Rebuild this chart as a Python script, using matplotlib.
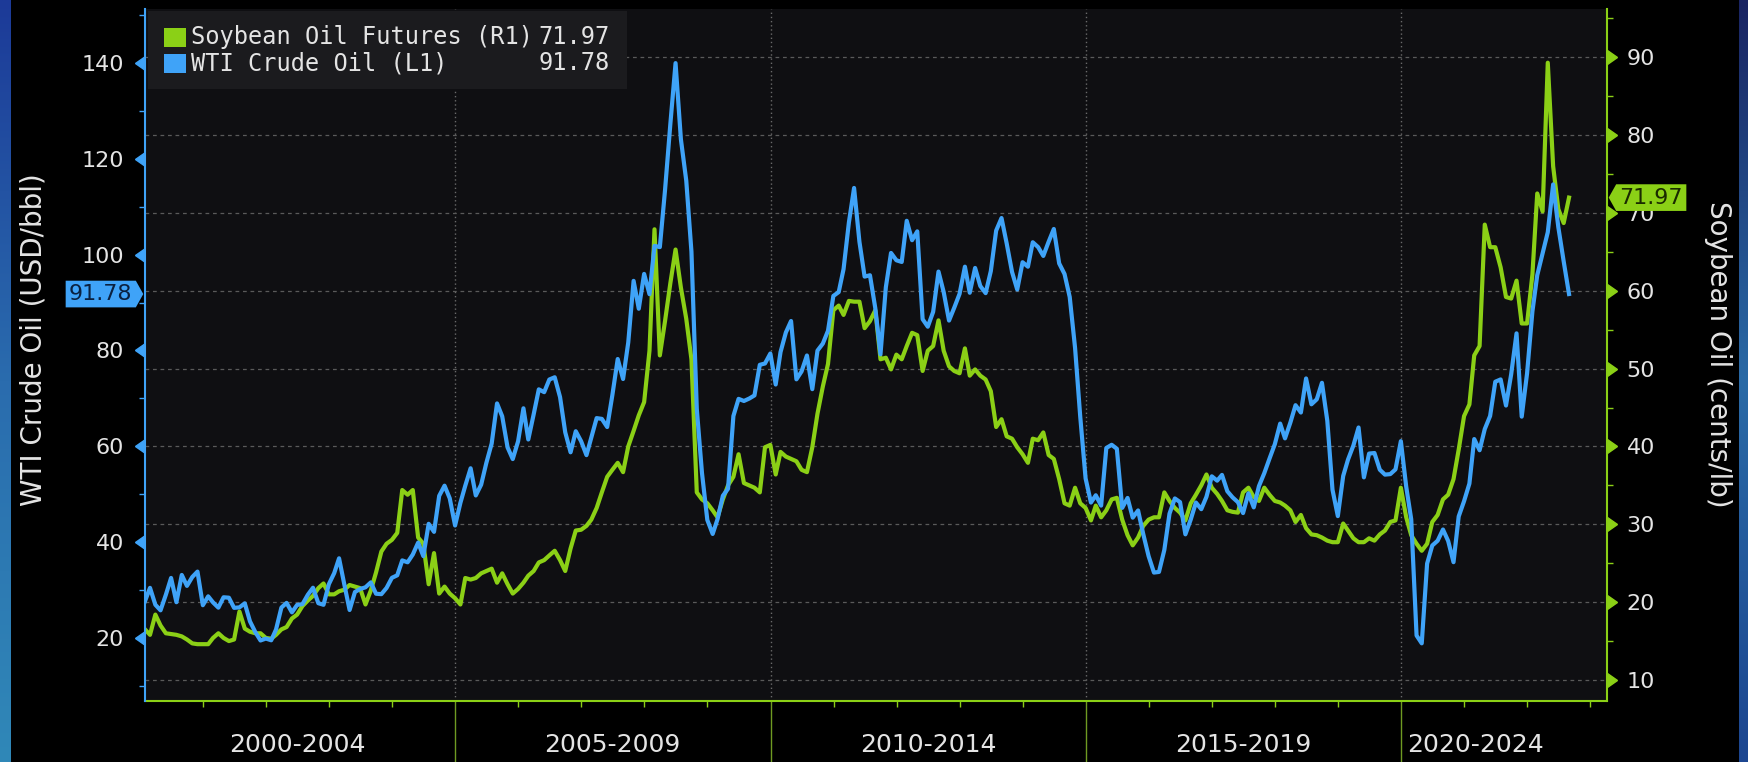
import numpy as np
import pandas as pd
import matplotlib
matplotlib.use("Agg")
import matplotlib.pyplot as plt
from matplotlib.colors import LinearSegmentedColormap
from matplotlib.markers import CARETLEFTBASE, CARETRIGHTBASE
from matplotlib.patches import Rectangle, FancyBboxPatch
from matplotlib.path import Path

# month-end values, Jan 2000 .. Aug 2022
wti = [
    27.64, 30.43, 26.90, 25.74, 29.01, 32.50, 27.43, 33.12, 30.84, 32.70, 33.82, 26.80,
    28.66, 27.39, 26.29, 28.46, 28.37, 26.25, 26.35, 27.20, 23.43, 21.18, 19.44, 19.84,
    19.48, 21.74, 26.31, 27.29, 25.31, 26.86, 27.02, 28.98, 30.45, 27.22, 26.89, 31.20,
    33.51, 36.60, 31.04, 25.80, 29.56, 30.19, 30.54, 31.57, 29.20, 29.11, 30.41, 32.52,
    33.05, 36.16, 35.76, 37.38, 39.88, 37.05, 43.80, 42.12, 49.64, 51.76, 49.13, 43.45,
    48.20, 51.75, 55.40, 49.72, 51.97, 56.50, 60.57, 68.94, 66.24, 59.76, 57.32, 61.04,
    67.92, 61.41, 66.63, 71.88, 71.29, 73.93, 74.40, 70.26, 62.91, 58.73, 63.13, 61.05,
    58.14, 61.79, 65.87, 65.71, 64.01, 70.68, 78.21, 74.04, 81.66, 94.53, 88.71, 95.98,
    91.75, 101.84, 101.58, 113.46, 127.35, 140.00, 124.08, 115.46, 100.64, 67.81, 54.43, 44.60,
    41.68, 44.76, 49.66, 51.12, 66.31, 69.89, 69.45, 69.96, 70.61, 77.00, 77.28, 79.36,
    72.89, 79.66, 83.76, 86.15, 73.97, 75.63, 78.95, 71.92, 79.97, 81.43, 84.11, 91.38,
    92.19, 96.97, 106.72, 113.93, 102.70, 95.42, 95.70, 88.81, 79.20, 93.19, 100.36, 98.83,
    98.48, 107.07, 103.02, 104.87, 86.53, 84.96, 88.06, 96.47, 92.19, 86.24, 88.91, 91.82,
    97.49, 92.05, 97.23, 93.46, 91.97, 96.56, 105.03, 107.65, 102.33, 96.38, 92.72, 98.42,
    97.49, 102.59, 101.58, 99.74, 102.71, 105.37, 98.17, 95.96, 91.16, 80.54, 66.15, 53.27,
    48.24, 49.76, 47.60, 59.63, 60.30, 59.47, 47.12, 49.20, 45.09, 46.59, 41.65, 37.04,
    33.62, 33.75, 38.34, 45.92, 49.10, 48.33, 41.60, 44.70, 48.24, 46.86, 49.44, 53.72,
    52.81, 54.01, 50.60, 49.33, 48.32, 46.04, 50.17, 47.23, 51.67, 54.38, 57.40, 60.42,
    64.73, 61.64, 64.94, 68.57, 67.04, 74.15, 68.76, 69.80, 73.25, 65.31, 50.93, 45.41,
    53.79, 57.22, 60.14, 63.91, 53.50, 58.47, 58.58, 55.10, 54.07, 54.18, 55.17, 61.06,
    51.56, 44.76, 20.48, 18.84, 35.49, 39.27, 40.27, 42.61, 40.22, 35.79, 45.34, 48.52,
    52.20, 61.50, 59.16, 63.58, 66.32, 73.47, 73.95, 68.50, 75.03, 83.57, 66.18, 75.21,
    88.15, 95.72, 100.28, 104.69, 114.67, 105.76, 98.62, 91.78,
]

soy = [
    16.5, 15.8, 18.4, 17.0, 16.0, 15.9, 15.8, 15.6, 15.2, 14.7, 14.6, 14.6,
    14.6, 15.4, 16.0, 15.4, 15.0, 15.2, 18.8, 16.6, 16.2, 16.0, 16.0, 15.4,
    15.3, 15.8, 16.5, 16.8, 17.9, 18.4, 19.5, 20.2, 20.8, 21.8, 22.4, 21.0,
    21.0, 21.4, 21.6, 22.2, 22.0, 21.8, 19.7, 21.5, 23.8, 26.5, 27.5, 28.0,
    28.9, 34.4, 33.8, 34.4, 28.3, 27.5, 22.3, 26.3, 21.1, 22.0, 21.1, 20.5,
    19.7, 23.1, 22.9, 23.1, 23.7, 24.0, 24.3, 22.5, 23.7, 22.3, 21.1, 21.7,
    22.5, 23.4, 24.0, 25.1, 25.4, 26.0, 26.6, 25.4, 24.0, 26.9, 29.2, 29.3,
    29.8, 30.6, 32.1, 34.1, 36.1, 37.0, 37.9, 36.7, 40.0, 42.0, 44.0, 45.7,
    52.3, 67.9, 51.7, 56.1, 61.0, 65.3, 60.4, 56.4, 51.2, 34.1, 33.2, 32.7,
    31.8, 30.9, 33.2, 35.0, 36.1, 39.0, 35.3, 35.0, 34.7, 34.1, 39.9, 40.2,
    36.4, 39.3, 38.7, 38.4, 38.1, 37.0, 36.7, 39.9, 44.2, 47.7, 50.6, 57.5,
    58.1, 56.9, 58.7, 58.6, 58.6, 55.2, 56.1, 57.5, 51.2, 51.4, 49.9, 51.8,
    51.2, 52.9, 54.6, 54.3, 49.7, 52.3, 52.9, 56.2, 52.3, 50.3, 49.7, 49.4,
    52.6, 49.1, 49.9, 49.1, 48.6, 47.1, 42.5, 43.5, 41.3, 41.0, 39.9, 39.0,
    37.9, 41.0, 40.8, 41.8, 38.9, 38.4, 35.8, 32.7, 32.4, 34.7, 32.7, 32.1,
    30.5, 32.4, 30.9, 31.8, 33.2, 33.4, 30.6, 28.6, 27.3, 28.3, 29.8, 30.6,
    30.9, 30.9, 34.1, 33.0, 32.1, 31.5, 30.5, 32.7, 33.8, 35.0, 36.4, 34.7,
    33.9, 33.0, 31.8, 31.6, 31.5, 34.1, 34.7, 33.5, 33.0, 34.7, 33.8, 33.0,
    32.8, 32.4, 31.8, 30.3, 31.2, 29.5, 28.7, 28.6, 28.3, 27.9, 27.7, 27.7,
    30.1, 29.2, 28.2, 27.7, 27.7, 28.2, 27.9, 28.7, 29.2, 30.3, 30.5, 34.7,
    30.9, 28.6, 27.5, 26.6, 27.5, 30.3, 31.2, 33.2, 33.8, 35.8, 39.6, 43.9,
    45.4, 51.7, 52.9, 68.5, 65.6, 65.6, 63.0, 59.2, 59.0, 61.3, 55.8, 55.8,
    62.1, 72.5, 70.2, 89.3, 76.0, 70.5, 68.7, 71.97,
]

wti_ticks = [20, 40, 60, 80, 100, 120, 140]
wti_minor = [10, 30, 50, 70, 90, 110, 130, 150]
soy_ticks = [10, 20, 30, 40, 50, 60, 70, 80, 90]
soy_minor = [15, 25, 35, 45, 55, 65, 75, 85, 95]
period_labels = ["2000-2004", "2005-2009", "2010-2014", "2015-2019", "2020-2024"]
period_mid = ["2002-07-01", "2007-07-01", "2012-07-01", "2017-07-01", "2021-03-10"]
dividers = ["2005-01-01", "2010-01-01", "2015-01-01", "2020-01-01"]

GREEN = "#8bd016"
BLUE = "#3fa3f8"
TXT = "#e4e4e4"
MONO = ["DejaVu Sans Mono"]

plt.rcParams["font.family"] = ["DejaVu Sans"]

dates = pd.date_range("2000-01-31", periods=len(wti), freq="ME")

W, H = 1749, 762
fig = plt.figure(figsize=(W / 100, H / 100), dpi=100, facecolor="black")


def strip(x0, w, colors):
    # thin gradient bands at the picture edges
    sax = fig.add_axes([x0 / W, 0, w / W, 1])
    cmap = LinearSegmentedColormap.from_list("s", colors)
    sax.imshow(np.linspace(0, 1, 256).reshape(-1, 1), aspect="auto", cmap=cmap)
    sax.axis("off")


strip(0, 11, ["#1c3a98", "#2a6cae", "#3088b8"])
strip(1739, 10, ["#1a2462", "#2a6aa6", "#1d4690"])

ax = fig.add_axes([145 / W, 61 / H, 1462 / W, 692 / H])   # soybean, right scale
ax.set_facecolor("#0f0f12")
axl = ax.twinx()                                           # WTI, left scale
ax.yaxis.tick_right()
ax.yaxis.set_label_position("right")
axl.yaxis.tick_left()
axl.yaxis.set_label_position("left")

ax.plot(dates, soy, color=GREEN, lw=3.0)
axl.plot(dates, wti, color=BLUE, lw=3.0)

ax.set_xlim(pd.Timestamp("2000-01-31"), pd.Timestamp("2023-04-08"))
ax.set_ylim(7.3, 96.2)
axl.set_ylim(6.8, 151.3)

# spines
for s in ["left", "top"]:
    ax.spines[s].set_visible(False)
for s in ["right", "bottom"]:
    ax.spines[s].set_color(GREEN)
    ax.spines[s].set_linewidth(1.5)
for s in ["right", "top", "bottom"]:
    axl.spines[s].set_visible(False)
axl.spines["left"].set_color(BLUE)
axl.spines["left"].set_linewidth(1.5)

# y ticks
ax.set_yticks(soy_ticks)
ax.set_yticks(soy_minor, minor=True)
ax.tick_params(axis="y", which="major", color=GREEN, labelcolor=TXT, labelsize=16,
               length=6, width=1, pad=8)
ax.tick_params(axis="y", which="minor", color=GREEN, length=4, width=1)
for t in ax.yaxis.get_major_ticks():
    t.tick2line.set_marker(CARETRIGHTBASE)
    t.tick2line.set_markersize(10)

axl.set_yticks(wti_ticks)
axl.set_yticks(wti_minor, minor=True)
axl.tick_params(axis="y", which="major", color=BLUE, labelcolor=TXT, labelsize=16,
                length=6, width=1, pad=9)
axl.tick_params(axis="y", which="minor", color=BLUE, length=4, width=1)
for t in axl.yaxis.get_major_ticks():
    t.tick1line.set_marker(CARETLEFTBASE)
    t.tick1line.set_markersize(10)

# x ticks: period dividers + yearly marks
ax.set_xticks(pd.to_datetime(dividers))
ax.set_xticks(pd.date_range("2001-01-01", "2023-01-01", freq="YS"), minor=True)
ax.tick_params(axis="x", which="major", color="#6f9a22", length=44, width=1,
               labelbottom=False)
ax.tick_params(axis="x", which="minor", color=GREEN, length=4, width=1,
               labelbottom=False)

ax.grid(axis="y", which="major", color="#5a5a5a", ls=(0, (3, 3)), lw=0.9)
ax.grid(axis="x", which="major", color="#6a6a6a", ls=(0, (1, 2)), lw=1.0)

for lab, mid in zip(period_labels, period_mid):
    ax.text(pd.Timestamp(mid), -0.064, lab, transform=ax.get_xaxis_transform(),
            ha="center", va="center", fontsize=18, color=TXT)

fig.text(0.019, 0.554, "WTI Crude Oil (USD/bbl)", rotation=90, ha="center",
         va="center", fontsize=20, color=TXT)
fig.text(0.9823, 0.535, "Soybean Oil (cents/lb)", rotation=270, ha="center",
         va="center", fontsize=20, color=TXT)


# last value tags on both scales
def tag_right(x0, y0, width, height, mutation_size):
    pad = 0.15 * mutation_size
    x0, y0 = x0 - pad, y0 - pad
    w, h = width + 2 * pad, height + 2 * pad
    tip = 0.28 * h
    return Path([(x0, y0), (x0 + w, y0), (x0 + w + tip, y0 + h / 2),
                 (x0 + w, y0 + h), (x0, y0 + h), (x0, y0)], closed=True)


def tag_left(x0, y0, width, height, mutation_size):
    pad = 0.15 * mutation_size
    x0, y0 = x0 - pad, y0 - pad
    w, h = width + 2 * pad, height + 2 * pad
    tip = 0.28 * h
    return Path([(x0, y0), (x0 + w, y0), (x0 + w, y0 + h), (x0, y0 + h),
                 (x0 - tip, y0 + h / 2), (x0, y0)], closed=True)


axl.annotate(f"{wti[-1]:.2f}", xy=(0, wti[-1]), xycoords=axl.get_yaxis_transform(),
             xytext=(-9, 0), textcoords="offset points", ha="right", va="center",
             fontsize=16, color="#0a2140", annotation_clip=False,
             bbox=dict(boxstyle=tag_right, fc=BLUE, ec="none"))
ax.annotate(f"{soy[-1]:.2f}", xy=(1, soy[-1]), xycoords=ax.get_yaxis_transform(),
            xytext=(9, 0), textcoords="offset points", ha="left", va="center",
            fontsize=16, color="#1a2a00", annotation_clip=False,
            bbox=dict(boxstyle=tag_left, fc=GREEN, ec="none"))

# legend box
axl.add_patch(FancyBboxPatch((0.002, 0.884), 0.3277, 0.113, transform=axl.transAxes,
                             boxstyle="square,pad=0", fc="#1b1b1e", ec="none", zorder=5))
rows = [("Soybean Oil Futures (R1)", soy[-1], GREEN, 0.9595),
        ("WTI Crude Oil (L1)", wti[-1], BLUE, 0.9213)]
for name, val, col, yy in rows:
    axl.add_patch(Rectangle((0.0130, yy - 0.0138), 0.0152, 0.0275, transform=axl.transAxes,
                            fc=col, ec="none", zorder=6))
    axl.text(0.0315, yy, name, transform=axl.transAxes, ha="left", va="center",
             fontsize=17, color=TXT, zorder=6, family=MONO)
    axl.text(0.318, yy, f"{val:.2f}", transform=axl.transAxes, ha="right", va="center",
             fontsize=17, color=TXT, zorder=6, family=MONO)

fig.savefig("out.png", dpi=100, facecolor="black")
